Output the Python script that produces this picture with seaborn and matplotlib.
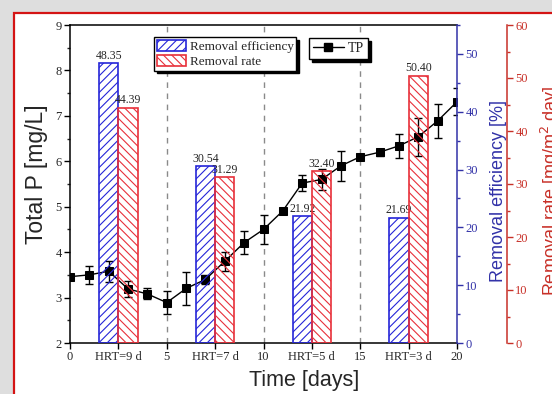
import matplotlib
matplotlib.use("Agg")
import matplotlib.pyplot as plt
import numpy as np
import seaborn as sns
from matplotlib.lines import Line2D
from matplotlib.patches import Patch, Rectangle
from matplotlib.ticker import MultipleLocator

days = list(range(21))
tp = [3.46, 3.50, 3.58, 3.19, 3.08, 2.89, 3.20, 3.40, 3.80, 4.21, 4.50,
      4.91, 5.52, 5.60, 5.90, 6.10, 6.20, 6.34, 6.54, 6.89, 7.31]
tp_err = [0.05, 0.20, 0.23, 0.17, 0.12, 0.25, 0.36, 0.10, 0.21, 0.25, 0.32,
          0.05, 0.17, 0.24, 0.33, 0.05, 0.08, 0.26, 0.42, 0.37, 0.30]

eff_pos = [2, 7, 12, 17]
eff_vals = [48.35, 30.54, 21.92, 21.69]
rate_pos = [3, 8, 13, 18]
rate_vals = [44.39, 31.29, 32.40, 50.40]

tick_pos = [0, 2.5, 5, 7.5, 10, 12.5, 15, 17.5, 20]
tick_labels = ["0", "HRT=9 d", "5", "HRT=7 d", "10", "HRT=5 d", "15", "HRT=3 d", "20"]
phase_bounds = [5, 10, 15]

BLUE = "#2525d8"
BLUE_AX = "#3232a8"
RED = "#e8303a"
RED_AX = "#c83028"

sns.set_style("ticks")
plt.rcParams["font.family"] = ["Liberation Serif", "DejaVu Serif"]
plt.rcParams["hatch.linewidth"] = 0.8
sans = ["Liberation Sans", "DejaVu Sans"]

fig = plt.figure(figsize=(5.52, 3.94), dpi=100, facecolor="#dedede")
fig.patches.append(Rectangle((14 / 552, -0.1), 1.2, 1 - 13 / 394 + 0.1,
                             transform=fig.transFigure, facecolor="white",
                             edgecolor="#d41414", linewidth=1.6, zorder=-5))
ax = fig.add_axes([70 / 552, 1 - 343 / 394, 387 / 552, 318 / 394])
ax.set_facecolor("none")
ax2 = ax.twinx()
ax3 = ax.twinx()

# dashed phase boundaries
for b in phase_bounds:
    ax.axvline(b, color="#8a8a8a", linestyle=(0, (4, 4)), linewidth=1, zorder=0)

# TP line with error bars
sns.lineplot(x=days, y=tp, marker="s", color="black", markersize=6,
             markeredgecolor="black", linewidth=1, ax=ax, zorder=3)
ax.errorbar(days, tp, yerr=tp_err, fmt="none", ecolor="black",
            elinewidth=1, capsize=3, capthick=1, zorder=3)

# bars on the twin axes
sns.barplot(x=eff_pos, y=eff_vals, native_scale=True, width=0.2, fill=False,
            color=BLUE, hatch="////", linewidth=1.2, errorbar=None, ax=ax2)
ax2.bar_label(ax2.containers[0], fmt="%.2f", padding=1, fontsize=8.5)
sns.barplot(x=rate_pos, y=rate_vals, native_scale=True, width=0.2, fill=False,
            color=RED, hatch="\\\\\\\\", linewidth=1.2, errorbar=None, ax=ax3)
ax3.bar_label(ax3.containers[0], fmt="%.2f", padding=1, fontsize=8.5)

# main axis
ax.set_xlim(0, 20)
ax.set_ylim(2, 9)
ax.set_xticks(tick_pos)
ax.set_xticklabels(tick_labels)
ax.yaxis.set_major_locator(MultipleLocator(1))
ax.yaxis.set_minor_locator(MultipleLocator(0.5))
ax.tick_params(axis="both", which="major", direction="out", length=4, width=1,
               labelsize=9, pad=2, color="black")
ax.tick_params(axis="y", which="minor", direction="out", length=2.5, width=1)
ax.tick_params(top=False, right=False)
ax.spines["right"].set_visible(False)
for s in ["left", "bottom", "top"]:
    ax.spines[s].set_linewidth(1.1)
    ax.spines[s].set_color("black")
ax.set_xlabel("Time [days]", fontsize=15.5, family=sans)
ax.xaxis.set_label_coords(0.605, -0.085)
ax.set_ylabel("Total P [mg/L]", fontsize=16.5, family=sans)
ax.yaxis.set_label_coords(-0.056, 0.53)

# efficiency axis
ax2.set_ylim(0, 55)
ax2.yaxis.set_major_locator(MultipleLocator(10))
ax2.yaxis.set_minor_locator(MultipleLocator(5))
ax2.tick_params(axis="y", which="both", direction="out", color=BLUE_AX,
                labelcolor=BLUE_AX, width=1, labelsize=9, pad=2)
ax2.tick_params(axis="y", which="major", length=4)
ax2.tick_params(axis="y", which="minor", length=2.5)
for s in ["left", "bottom", "top"]:
    ax2.spines[s].set_visible(False)
ax2.spines["right"].set_color(BLUE_AX)
ax2.spines["right"].set_linewidth(1.1)
ax2.set_ylabel("Removal efficiency [%]", fontsize=13, color=BLUE_AX, family=sans)
ax2.yaxis.set_label_coords(1.086, 0.478)

# removal rate axis, 50 px right of the efficiency axis
ax3.spines["right"].set_position(("outward", 36))
ax3.set_ylim(0, 60)
ax3.yaxis.set_major_locator(MultipleLocator(10))
ax3.yaxis.set_minor_locator(MultipleLocator(5))
ax3.tick_params(axis="y", which="both", direction="out", color=RED_AX,
                labelcolor=RED_AX, width=1, labelsize=9, pad=2)
ax3.tick_params(axis="y", which="major", length=4)
ax3.tick_params(axis="y", which="minor", length=2.5)
for s in ["left", "bottom", "top"]:
    ax3.spines[s].set_visible(False)
ax3.spines["right"].set_color(RED_AX)
ax3.spines["right"].set_linewidth(1.1)
ax3.set_ylabel("Removal rate [mg/m$^2$ day]", fontsize=13, color=RED_AX, family=sans)
ax3.yaxis.set_label_coords(1.212, 0.48)
ax.set_xlim(0, 20)

# legends
bar_handles = [
    Patch(facecolor="white", edgecolor=BLUE, hatch="////", linewidth=1.2),
    Patch(facecolor="white", edgecolor=RED, hatch="\\\\\\\\", linewidth=1.2),
]
leg1 = ax3.legend(bar_handles, ["Removal efficiency", "Removal rate"],
                  loc="upper left", bbox_to_anchor=(154 / 552, 1 - 37 / 394),
                  bbox_transform=fig.transFigure, fontsize=9.5, frameon=True,
                  fancybox=False, edgecolor="black", framealpha=1,
                  shadow={"color": "black", "alpha": 1},
                  handlelength=2.2, handleheight=0.95, handletextpad=0.3,
                  labelspacing=0.15, borderpad=0.2, borderaxespad=0)
leg1.get_frame().set_linewidth(1)
ax3.add_artist(leg1)
tp_handle = Line2D([], [], color="black", marker="s", markersize=6, linewidth=1)
leg2 = ax3.legend([tp_handle], ["TP"], loc="upper left",
                  bbox_to_anchor=(309 / 552, 1 - 38 / 394),
                  bbox_transform=fig.transFigure, fontsize=10, frameon=True,
                  fancybox=False, edgecolor="black", framealpha=1,
                  shadow={"color": "black", "alpha": 1},
                  handlelength=2.2, handletextpad=0.3, borderpad=0.3,
                  borderaxespad=0)
leg2.get_frame().set_linewidth(1)

fig.savefig("out.png", dpi=100, facecolor=fig.get_facecolor())
